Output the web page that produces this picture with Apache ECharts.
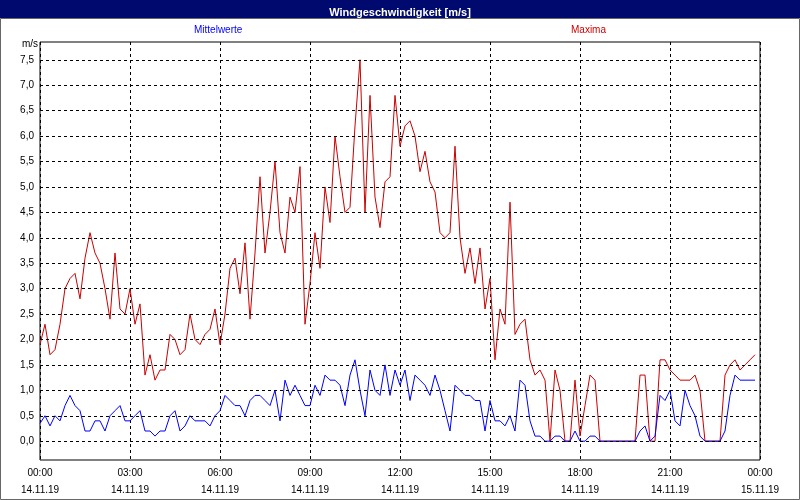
<!DOCTYPE html>
<html>
<head>
<meta charset="utf-8">
<script src="https://cdn.jsdelivr.net/npm/echarts@6/dist/echarts.min.js"></script>
<style>
html,body{margin:0;padding:0;background:#fff;}
#main{width:800px;height:500px;}
</style>
</head>
<body>
<div id="main"></div>
<script>
// Messwerte alle 10 Minuten, 00:00 bis 23:50
var mittelwerte = [0.35,0.5,0.3,0.5,0.4,0.7,0.9,0.7,0.6,0.2,0.2,0.4,0.4,0.2,0.5,0.6,0.7,0.4,
  0.4,0.5,0.6,0.2,0.2,0.1,0.2,0.2,0.5,0.6,0.2,0.3,0.5,0.4,0.4,0.4,0.3,0.5,
  0.6,0.9,0.8,0.7,0.7,0.5,0.8,0.9,0.9,0.8,0.7,1.0,0.4,1.2,0.9,1.1,0.9,0.7,
  0.7,1.1,0.9,1.3,1.2,1.2,1.1,0.7,1.3,1.6,1.0,0.5,1.4,1.0,0.9,1.5,0.9,1.4,
  1.1,1.4,0.8,1.3,1.2,1.1,0.9,1.3,1.0,0.6,0.2,1.1,1.0,0.9,0.9,0.8,0.8,0.2,
  0.8,0.4,0.4,0.3,0.5,0.2,1.2,1.1,0.4,0.1,0.1,0,0,0.1,0.1,0,0,0.2,
  0,0,0.1,0.1,0,0,0,0,0,0,0,0,0.2,0.3,0,0.1,0.9,0.8,
  1.0,0.4,0.3,1.0,0.7,0.5,0.1,0,0,0,0,0.2,0.9,1.3,1.2,1.2,1.2,1.2];
var maxima = [1.9,2.3,1.7,1.8,2.3,3.0,3.2,3.3,2.8,3.6,4.1,3.7,3.5,3.0,2.4,3.7,2.6,2.5,
  3.0,2.3,2.7,1.3,1.7,1.2,1.4,1.4,2.1,2.0,1.7,1.8,2.5,2.0,1.9,2.1,2.2,2.6,
  1.9,2.5,3.4,3.6,2.9,3.9,2.4,3.7,5.2,3.7,4.5,5.5,4.1,3.7,4.8,4.5,5.4,2.3,
  3.1,4.1,3.4,5.0,4.3,6.0,5.2,4.5,4.6,6.2,7.5,4.5,6.8,4.8,4.2,5.1,5.2,6.8,
  5.8,6.2,6.3,6.0,5.3,5.7,5.1,4.9,4.1,4.0,4.1,5.8,4.0,3.3,3.8,3.1,3.8,2.6,
  3.2,1.6,2.6,2.3,4.7,2.1,2.3,2.4,1.6,1.3,1.4,1.2,0,1.4,1.0,0,0,1.2,
  0.1,0.7,1.3,1.2,0,0,0,0,0,0,0,0,1.3,1.3,0,0,1.6,1.6,
  1.4,1.3,1.2,1.2,1.2,1.3,1.0,0,0,0,0,1.3,1.5,1.6,1.4,1.5,1.6,1.7];
var yTicks = [0,0.5,1,1.5,2,2.5,3,3.5,4,4.5,5,5.5,6,6.5,7,7.5];
var xLabels = {0:'00:00\n14.11.19',180:'03:00\n14.11.19',360:'06:00\n14.11.19',540:'09:00\n14.11.19',
  720:'12:00\n14.11.19',900:'15:00\n14.11.19',1080:'18:00\n14.11.19',1260:'21:00\n14.11.19',1440:'00:00\n15.11.19'};

function toPairs(arr){ return arr.map(function(v,i){ return [i*10, v]; }); }

var myChart = echarts.init(document.getElementById('main'));
var fnt = 'Liberation Sans, DejaVu Sans, sans-serif';
var option = {
  animation: false,
  backgroundColor: '#fff',
  title: {
    text: 'Windgeschwindigkeit [m/s]',
    left: 'center', top: 2,
    textStyle: {color: '#fff', fontSize: 11, fontWeight: 'bold', fontFamily: fnt}
  },
  graphic: [
    {type: 'rect', z: -1, shape: {x: 0, y: 0, width: 800, height: 18}, style: {fill: '#000a6e'}},
    {type: 'rect', z: -1, shape: {x: 0.5, y: 18.5, width: 799, height: 481}, style: {fill: 'none', stroke: '#666'}},
    {type: 'text', left: 194, top: 25, style: {text: 'Mittelwerte', fill: '#0000ff', font: '10px ' + fnt}},
    {type: 'text', left: 571, top: 25, style: {text: 'Maxima', fill: '#cc0000', font: '10px ' + fnt}},
    {type: 'text', left: 22, top: 39, style: {text: 'm/s', fill: '#000', font: '10px ' + fnt}}
  ],
  grid: {left: 40, right: 40, top: 42, bottom: 40, show: true, borderColor: '#000', borderWidth: 1},
  xAxis: {
    type: 'value', min: 0, max: 1440, interval: 180,
    axisLine: {show: false}, axisTick: {show: false},
    splitLine: {show: true, lineStyle: {color: '#000', type: [3, 3]}},
    axisLabel: {color: '#000', fontSize: 10, fontFamily: fnt, lineHeight: 17, margin: 5,
      formatter: function(v){ return xLabels[v] || ''; }}
  },
  yAxis: {
    type: 'value', min: -0.37, max: 7.85,
    axisLine: {show: false}, axisTick: {show: false}, splitLine: {show: false},
    axisLabel: {color: '#000', fontSize: 10, fontFamily: fnt, margin: 6,
      customValues: yTicks,
      formatter: function(v){ return v.toFixed(1).replace('.', ','); }}
  },
  series: [
    {
      name: 'Gitter', type: 'line', data: [], silent: true,
      markLine: {symbol: 'none', silent: true, label: {show: false},
        lineStyle: {color: '#000', type: [3, 3], width: 1},
        data: yTicks.map(function(t){ return {yAxis: t}; })}
    },
    {name: 'Maxima', type: 'line', data: toPairs(maxima), showSymbol: false,
      lineStyle: {color: '#cc0000', width: 1}, itemStyle: {color: '#cc0000'}},
    {name: 'Mittelwerte', type: 'line', data: toPairs(mittelwerte), showSymbol: false,
      lineStyle: {color: '#0000ff', width: 1}, itemStyle: {color: '#0000ff'}}
  ]
};
myChart.setOption(option);
</script>
</body>
</html>
